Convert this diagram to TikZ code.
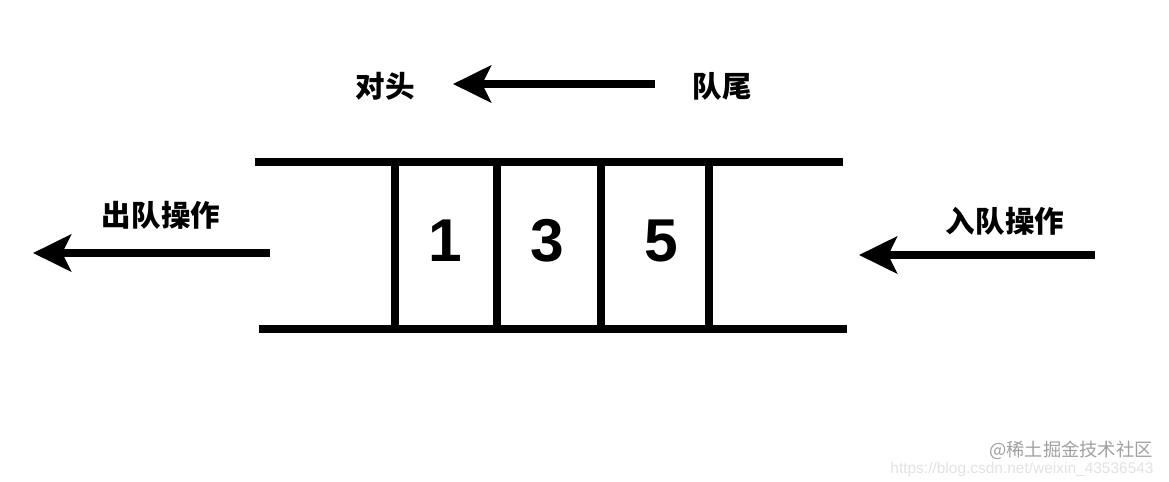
\documentclass[tikz,border=0pt]{standalone}
\usepackage{fontspec}
\usetikzlibrary{arrows.meta}
\newfontfamily\cjk{Noto Sans CJK SC}
\newfontfamily\numfont{Liberation Sans}
\definecolor{markgray}{HTML}{A0A0A0}
\definecolor{urlgray}{HTML}{E2E2E2}
\begin{document}
\begin{tikzpicture}[x=0.025cm,y=-0.025cm,
  wall/.style={line width=0.2cm},
  push/.style={line width=0.2cm,-{Stealth[length=0.95cm,width=0.92cm,inset=0.22cm]}},
  word/.style={font=\cjk\bfseries\fontsize{21}{21}\selectfont},
  num/.style={font=\numfont\bfseries\fontsize{43}{43}\selectfont}]
  \useasboundingbox (0,0) rectangle (1169,481);

  % queue walls
  \draw[wall] (255,162) -- (843,162);
  \draw[wall] (259,329) -- (847,329);
  \foreach \x in {395,497,601,709}
    \draw[wall] (\x,162) -- (\x,329);

  % elements
  \node[num] (one) at (445,241) {1};
  \node[num] (three) at (547,241) {3};
  \node[num] (five) at (661,241) {5};

  % direction head <- tail
  \node[word] (head) at (385,86) {对头};
  \node[word] (tail) at (722,86) {队尾};
  \coordinate (tailend) at (655,84);
  \coordinate (headend) at (453,84);
  \draw[push] (tailend) -- (headend);

  % dequeue
  \node[word] (deq) at (161,215) {出队操作};
  \coordinate (deqfrom) at (270,253);
  \coordinate (deqto) at (33,253);
  \draw[push] (deqfrom) -- (deqto);

  % enqueue
  \node[word] (enq) at (1005,221) {入队操作};
  \coordinate (enqfrom) at (1095,255);
  \coordinate (enqto) at (859,255);
  \draw[push] (enqfrom) -- (enqto);

  % watermark
  \node[font=\numfont\fontsize{11}{11}\selectfont,text=urlgray,inner sep=0pt] (url) at (1022,469) {https://blog.csdn.net/weixin\_43536543};
  \node[font=\cjk\fontsize{13}{13}\selectfont,text=markgray,inner sep=0pt] (mark) at (1071,450) {@稀土掘金技术社区};
\end{tikzpicture}
\end{document}
